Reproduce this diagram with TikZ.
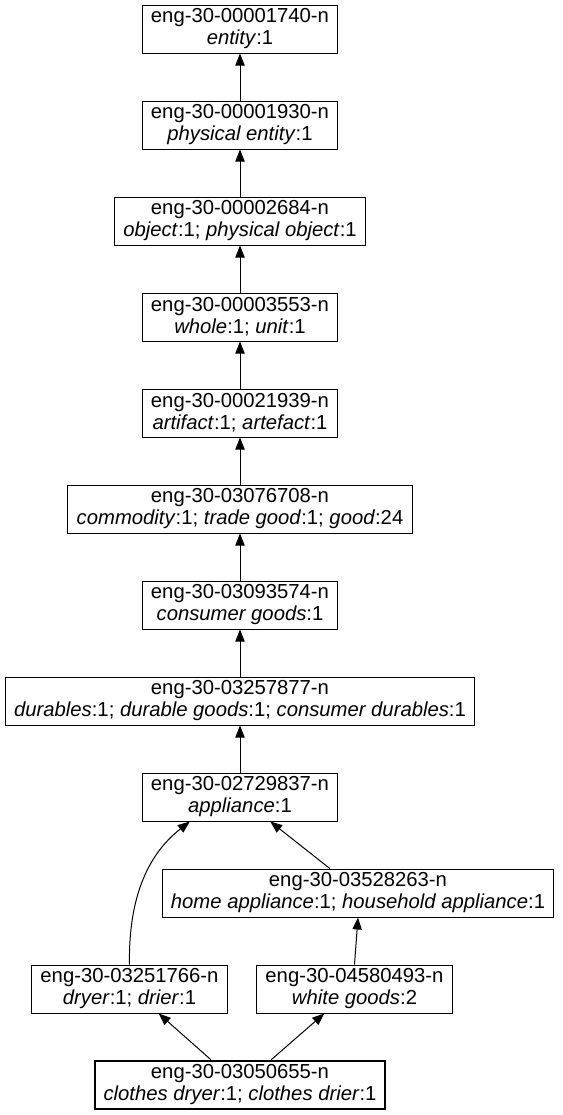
\documentclass[tikz,border=0pt]{standalone}
\usepackage{fontspec}
\setmainfont{Liberation Sans}
\usetikzlibrary{arrows.meta}
\tikzstyle{synset} = [rectangle, draw=black, line width=0.75pt, align=center, inner xsep=6.6pt, inner ysep=1.5pt, minimum height=36pt, font=\fontsize{15.2pt}{16.5pt}\selectfont]
\tikzstyle{focus} = [synset, line width=1.9pt]
\tikzstyle{hyp} = [-{Triangle[length=9pt,width=7pt]}, line width=0.75pt]

\begin{document}
\begin{tikzpicture}[x=0.75pt, y=-0.75pt]
  \useasboundingbox (0,0) rectangle (562,1115);

  \node (entity) [synset] at (240, 29) {eng-30-00001740-n\\\textit{entity}:1};
  \node (physent) [synset] at (240, 125) {eng-30-00001930-n\\\textit{physical entity}:1};
  \node (object) [synset] at (240, 221) {eng-30-00002684-n\\\textit{object}:1; \textit{physical object}:1};
  \node (whole) [synset] at (240, 317) {eng-30-00003553-n\\\textit{whole}:1; \textit{unit}:1};
  \node (artifact) [synset] at (240, 413) {eng-30-00021939-n\\\textit{artifact}:1; \textit{artefact}:1};
  \node (commodity) [synset] at (240, 509) {eng-30-03076708-n\\\textit{commodity}:1; \textit{trade good}:1; \textit{good}:24};
  \node (consgoods) [synset] at (240, 605) {eng-30-03093574-n\\\textit{consumer goods}:1};
  \node (durables) [synset] at (240, 701) {eng-30-03257877-n\\\textit{durables}:1; \textit{durable goods}:1; \textit{consumer durables}:1};
  \node (appliance) [synset] at (240, 797) {eng-30-02729837-n\\\textit{appliance}:1};
  \node (homeapp) [synset] at (358, 893) {eng-30-03528263-n\\\textit{home appliance}:1; \textit{household appliance}:1};
  \node (dryer) [synset] at (129.5, 989) {eng-30-03251766-n\\\textit{dryer}:1; \textit{drier}:1};
  \node (whitegoods) [synset] at (354.5, 989) {eng-30-04580493-n\\\textit{white goods}:2};
  \node (clothesdryer) [focus] at (240, 1085) {eng-30-03050655-n\\\textit{clothes dryer}:1; \textit{clothes drier}:1};

  \draw[hyp] (physent) -- (entity);
  \draw[hyp] (object) -- (physent);
  \draw[hyp] (whole) -- (object);
  \draw[hyp] (artifact) -- (whole);
  \draw[hyp] (commodity) -- (artifact);
  \draw[hyp] (consgoods) -- (commodity);
  \draw[hyp] (durables) -- (consgoods);
  \draw[hyp] (appliance) -- (durables);

  \draw[hyp] (homeapp.139) -- (appliance.-39);
  \draw[hyp] (dryer.north) .. controls (128, 880) and (160, 845) .. (appliance.-154);
  \draw[hyp] (whitegoods.north) -- (homeapp.south);
  \draw[hyp] (clothesdryer.139) -- (dryer.-40);
  \draw[hyp] (clothesdryer.39) -- (whitegoods.-141);
\end{tikzpicture}
\end{document}
